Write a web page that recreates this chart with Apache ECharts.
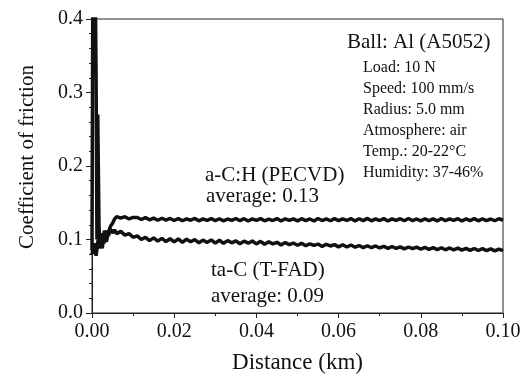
<!DOCTYPE html>
<html>
<head>
<meta charset="utf-8">
<script src="https://cdn.jsdelivr.net/npm/echarts@6/dist/echarts.min.js"></script>
<style>
  html, body { margin: 0; padding: 0; background: #fff; }
  #chart { width: 531px; height: 376px; }
</style>
</head>
<body>
<div id="chart"></div>
<script>
const FONT = '"Liberation Serif", "Times New Roman", serif';

// distance (km) shared by the long flat part of both traces
const tailDistance = [
  0.011, 0.012, 0.013, 0.014, 0.015, 0.016, 0.017, 0.018, 0.019, 0.020,
  0.021, 0.022, 0.023, 0.024, 0.025, 0.026, 0.027, 0.028, 0.029, 0.030,
  0.031, 0.032, 0.033, 0.034, 0.035, 0.036, 0.037, 0.038, 0.039, 0.040,
  0.041, 0.042, 0.043, 0.044, 0.045, 0.046, 0.047, 0.048, 0.049, 0.050,
  0.051, 0.052, 0.053, 0.054, 0.055, 0.056, 0.057, 0.058, 0.059, 0.060,
  0.061, 0.062, 0.063, 0.064, 0.065, 0.066, 0.067, 0.068, 0.069, 0.070,
  0.071, 0.072, 0.073, 0.074, 0.075, 0.076, 0.077, 0.078, 0.079, 0.080,
  0.081, 0.082, 0.083, 0.084, 0.085, 0.086, 0.087, 0.088, 0.089, 0.090,
  0.091, 0.092, 0.093, 0.094, 0.095, 0.096, 0.097, 0.098, 0.099, 0.100
];

// a-C:H (PECVD): start-up spike, then steady sliding
const achStartDistance = [0, 0.0002, 0.0005, 0.0008, 0.0010, 0.0012, 0.0014, 0.0017, 0.0019, 0.0022,
  0.0025, 0.0030, 0.0035, 0.0040, 0.0045, 0.0050, 0.0055, 0.0060, 0.0070, 0.0080, 0.0090, 0.0100];
const achStartCof = [0.085, 0.45, 0.33, 0.44, 0.32, 0.10, 0.27, 0.12, 0.092, 0.108,
  0.088, 0.112, 0.097, 0.110, 0.118, 0.122, 0.128, 0.131, 0.129, 0.131, 0.128, 0.130];
const achTailCof = [
  0.1300, 0.1272, 0.1298, 0.1268, 0.1291, 0.1262, 0.1289, 0.1265, 0.1286, 0.1258,
  0.1284, 0.1255, 0.1281, 0.1262, 0.1287, 0.1254, 0.1280, 0.1259, 0.1285, 0.1257,
  0.1282, 0.1253, 0.1279, 0.1261, 0.1286, 0.1256, 0.1283, 0.1252, 0.1280, 0.1260,
  0.1284, 0.1255, 0.1278, 0.1258, 0.1285, 0.1251, 0.1282, 0.1259, 0.1281, 0.1254,
  0.1283, 0.1257, 0.1279, 0.1252, 0.1286, 0.1258, 0.1280, 0.1255, 0.1284, 0.1256,
  0.1281, 0.1259, 0.1285, 0.1253, 0.1282, 0.1257, 0.1287, 0.1254, 0.1280, 0.1258,
  0.1284, 0.1252, 0.1281, 0.1259, 0.1283, 0.1255, 0.1286, 0.1257, 0.1279, 0.1254,
  0.1282, 0.1258, 0.1280, 0.1253, 0.1285, 0.1256, 0.1281, 0.1259, 0.1283, 0.1252,
  0.1280, 0.1257, 0.1284, 0.1254, 0.1282, 0.1258, 0.1279, 0.1255, 0.1283, 0.1262
];

// ta-C (T-FAD): small hump, then slow decline
const tacStartDistance = [0, 0.0005, 0.0010, 0.0015, 0.0020, 0.0025, 0.0030, 0.0035, 0.0040, 0.0045,
  0.0050, 0.0055, 0.0060, 0.0070, 0.0080, 0.0090, 0.0100, 0.0110, 0.0120];
const tacStartCof = [0.080, 0.095, 0.078, 0.100, 0.088, 0.108, 0.095, 0.112, 0.105, 0.114,
  0.109, 0.113, 0.108, 0.111, 0.106, 0.108, 0.103, 0.105, 0.100];
const tacTailCof = [
  0.1030, 0.0985, 0.1022, 0.0978, 0.1015, 0.0972, 0.1010, 0.0968,
  0.1008, 0.0962, 0.1004, 0.0970, 0.0998, 0.0955, 0.0992, 0.0960, 0.0995, 0.0950,
  0.0990, 0.0948, 0.0985, 0.0955, 0.0982, 0.0942, 0.0978, 0.0950, 0.0980, 0.0940,
  0.0975, 0.0935, 0.0968, 0.0940, 0.0962, 0.0925, 0.0958, 0.0930, 0.0952, 0.0922,
  0.0948, 0.0915, 0.0942, 0.0920, 0.0938, 0.0905, 0.0935, 0.0912, 0.0930, 0.0900,
  0.0928, 0.0898, 0.0925, 0.0895, 0.0918, 0.0890, 0.0915, 0.0888, 0.0912, 0.0885,
  0.0908, 0.0880, 0.0905, 0.0878, 0.0900, 0.0872, 0.0898, 0.0875, 0.0896, 0.0868,
  0.0892, 0.0866, 0.0890, 0.0862, 0.0888, 0.0860, 0.0885, 0.0858, 0.0882, 0.0855,
  0.0880, 0.0852, 0.0878, 0.0850, 0.0875, 0.0848, 0.0872, 0.0845, 0.0870, 0.0850
];

const conditions = ['Load: 10 N', 'Speed: 100 mm/s', 'Radius: 5.0 mm', 'Atmosphere: air',
  'Temp.: 20-22°C', 'Humidity: 37-46%'];

function pairs(xs, ys) {
  return xs.map((x, i) => [x, ys[i]]);
}

const achData = pairs(achStartDistance.concat(tailDistance), achStartCof.concat(achTailCof));
const tacData = pairs(tacStartDistance.concat(tailDistance.slice(2)), tacStartCof.concat(tacTailCof));

const chart = echarts.init(document.getElementById('chart'), null, { renderer: 'canvas' });

const txt = (x, y, text, size) => ({
  type: 'text',
  left: x,
  top: y,
  style: { text, font: `${size}px ${FONT}`, fill: '#111' },
});

chart.setOption({
  animation: false,
  backgroundColor: '#fff',
  grid: {
    left: 92, right: 28, top: 19, bottom: 63,
    outerBoundsMode: 'none',
    show: true, borderColor: '#222', borderWidth: 1, backgroundColor: 'transparent',
  },
  xAxis: {
    type: 'value',
    min: 0, max: 0.1, interval: 0.02,
    name: 'Distance (km)',
    nameLocation: 'middle',
    nameGap: 38,
    nameTextStyle: { fontFamily: FONT, fontSize: 23, color: '#111' },
    axisLine: { lineStyle: { color: '#222', width: 1 } },
    axisTick: { length: 5, lineStyle: { color: '#222' } },
    minorTick: { show: true, splitNumber: 2, length: 3, lineStyle: { color: '#222' } },
    axisLabel: { fontFamily: FONT, fontSize: 20, color: '#111', margin: 9, formatter: (v) => v.toFixed(2) },
    splitLine: { show: false },
  },
  yAxis: {
    type: 'value',
    min: 0, max: 0.4, interval: 0.1,
    name: 'Coefficient of friction',
    nameLocation: 'middle',
    nameGap: 54,
    nameTextStyle: { fontFamily: FONT, fontSize: 21, color: '#111', padding: [0, 0, 0, 18] },
    axisLine: { show: true, lineStyle: { color: '#222', width: 1 } },
    axisTick: { length: 6, lineStyle: { color: '#222' } },
    minorTick: { show: true, splitNumber: 5, length: 3, lineStyle: { color: '#222' } },
    axisLabel: { fontFamily: FONT, fontSize: 20, color: '#111', margin: 9, formatter: (v) => v.toFixed(1) },
    splitLine: { show: false },
  },
  graphic: [
    txt(347, 32, 'Ball: Al (A5052)', 21),
  ].concat(conditions.map((c, i) => txt(363, 60 + i * 21, c, 16)))
   .concat([
    txt(205, 165, 'a-C:H (PECVD)', 21),
    txt(206, 186, 'average: 0.13', 21),
    txt(211, 260, 'ta-C (T-FAD)', 21),
    txt(211, 286, 'average: 0.09', 21),
  ]),
  series: [
    {
      name: 'a-C:H (PECVD)',
      type: 'line',
      data: achData,
      symbol: 'none',
      clip: true,
      lineStyle: { color: '#111', width: 3.5 },
    },
    {
      name: 'ta-C (T-FAD)',
      type: 'line',
      data: tacData,
      symbol: 'none',
      clip: true,
      lineStyle: { color: '#111', width: 3.5 },
    },
  ],
});
</script>
</body>
</html>
